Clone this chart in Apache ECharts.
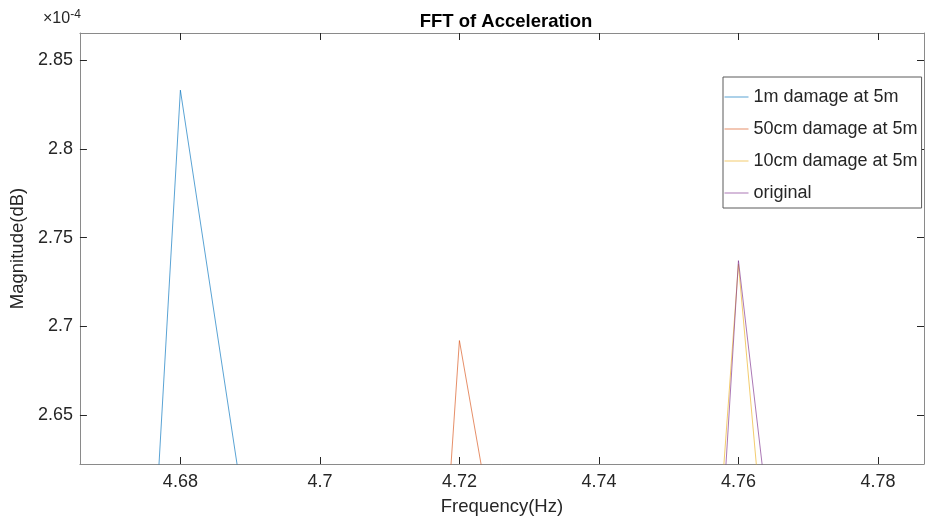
<!DOCTYPE html>
<html>
<head>
<meta charset="utf-8">
<script src="https://cdn.jsdelivr.net/npm/echarts@6/dist/echarts.min.js"></script>
<style>
  html, body { margin: 0; padding: 0; background: #ffffff; }
  #chart { width: 925px; height: 521px; }
</style>
</head>
<body>
<div id="chart"></div>
<script>
// FFT spectrum samples (frequency resolution 0.04 Hz), magnitudes in units of 1e-4
const freq1m   = [4.64, 4.68, 4.72];
const mag1m    = [0.085, 2.833, 1.796];
const freq50cm = [4.68, 4.72, 4.76];
const mag50cm  = [0.375, 2.692, 1.795];
const freq10cm = [4.72, 4.76, 4.80];
const mag10cm  = [0.574, 2.735, 0.976];
const freqOrig = [4.72, 4.76, 4.80];
const magOrig  = [0.172, 2.737, 1.385];

const seriesNames = ['1m damage at 5m', '50cm damage at 5m', '10cm damage at 5m', 'original'];
const xTicks = [4.68, 4.70, 4.72, 4.74, 4.76, 4.78];
const yTicks = [2.65, 2.70, 2.75, 2.80, 2.85];
const xRange = [4.6656, 4.7866];
const yRange = [2.6225, 2.8652];

const FONT = '"Liberation Sans", Arial, Helvetica, sans-serif';
const TXT = '#262626';
const AXIS = '#8a8a8a';
const colors = ['#0072BD', '#D95319', '#EDB120', '#7E2F8E'];

function pairs(xs, ys) { return xs.map((x, i) => [x, ys[i]]); }
function fmt(v) { return String(parseFloat(Number(v).toFixed(4))); }

const chart = echarts.init(document.getElementById('chart'), null, { renderer: 'canvas' });

const lineSeries = [
  [freq1m, mag1m], [freq50cm, mag50cm], [freq10cm, mag10cm], [freqOrig, magOrig]
].map((d, i) => ({
  name: seriesNames[i],
  type: 'line',
  xAxisIndex: 0,
  yAxisIndex: 0,
  data: pairs(d[0], d[1]),
  symbol: 'none',
  clip: true,
  silent: true,
  animation: false,
  lineStyle: { color: colors[i], width: 1, opacity: 0.65 },
  itemStyle: { color: colors[i] }
}));

function xAx(pos, showLabels) {
  return {
    type: 'value', position: pos, min: xRange[0], max: xRange[1],
    axisLine: { show: true, onZero: false, lineStyle: { color: AXIS, width: 1 } },
    axisTick: { show: true, inside: true, length: 7, customValues: xTicks, lineStyle: { color: TXT } },
    axisLabel: { show: showLabels, customValues: xTicks, formatter: fmt, color: TXT,
                 fontFamily: FONT, fontSize: 18, margin: 9 },
    splitLine: { show: false },
    name: showLabels ? 'Frequency(Hz)' : '',
    nameLocation: 'middle', nameGap: 33,
    nameTextStyle: { color: TXT, fontFamily: FONT, fontSize: 18.5 }
  };
}
function yAx(pos, showLabels) {
  return {
    type: 'value', position: pos, min: yRange[0], max: yRange[1],
    axisLine: { show: true, onZero: false, lineStyle: { color: AXIS, width: 1 } },
    axisTick: { show: true, inside: true, length: 7, customValues: yTicks, lineStyle: { color: TXT } },
    axisLabel: { show: showLabels, customValues: yTicks, formatter: fmt, color: TXT,
                 fontFamily: FONT, fontSize: 18, margin: 7 },
    splitLine: { show: false },
    name: showLabels ? 'Magnitude(dB)' : '',
    nameLocation: 'middle', nameGap: 44, nameRotate: 90,
    nameTextStyle: { color: TXT, fontFamily: FONT, fontSize: 18.5 }
  };
}

chart.setOption({
  backgroundColor: '#ffffff',
  animation: false,
  title: {
    text: 'FFT of Acceleration',
    left: 501, top: 7, textAlign: 'center',
    textStyle: { fontFamily: FONT, fontSize: 18.5, fontWeight: 'bold', color: '#000000' }
  },
  grid: { left: 75, right: 1, top: 33, bottom: 56, containLabel: false },
  xAxis: [xAx('bottom', true), xAx('top', false)],
  yAxis: [yAx('left', true), yAx('right', false)],
  legend: {
    data: seriesNames,
    orient: 'vertical',
    left: 723, top: 77,
    itemWidth: 24, itemHeight: 14, itemGap: 14,
    padding: [11, 4, 6, 1],
    borderColor: '#5a5a5a', borderWidth: 1,
    backgroundColor: '#ffffff',
    selectedMode: false,
    itemStyle: { opacity: 0 },
    lineStyle: { width: 1, opacity: 0.65 },
    textStyle: { fontFamily: FONT, fontSize: 18, color: TXT }
  },
  graphic: [{
    type: 'text', left: 43, top: 9,
    style: {
      text: '×10{s|-4}',
      rich: { s: { fontSize: 12, fontFamily: FONT, fill: TXT, verticalAlign: 'top', padding: [0, 0, 8, 0] } },
      font: '16px ' + FONT, fill: TXT
    }
  }],
  series: lineSeries
});
</script>
</body>
</html>
